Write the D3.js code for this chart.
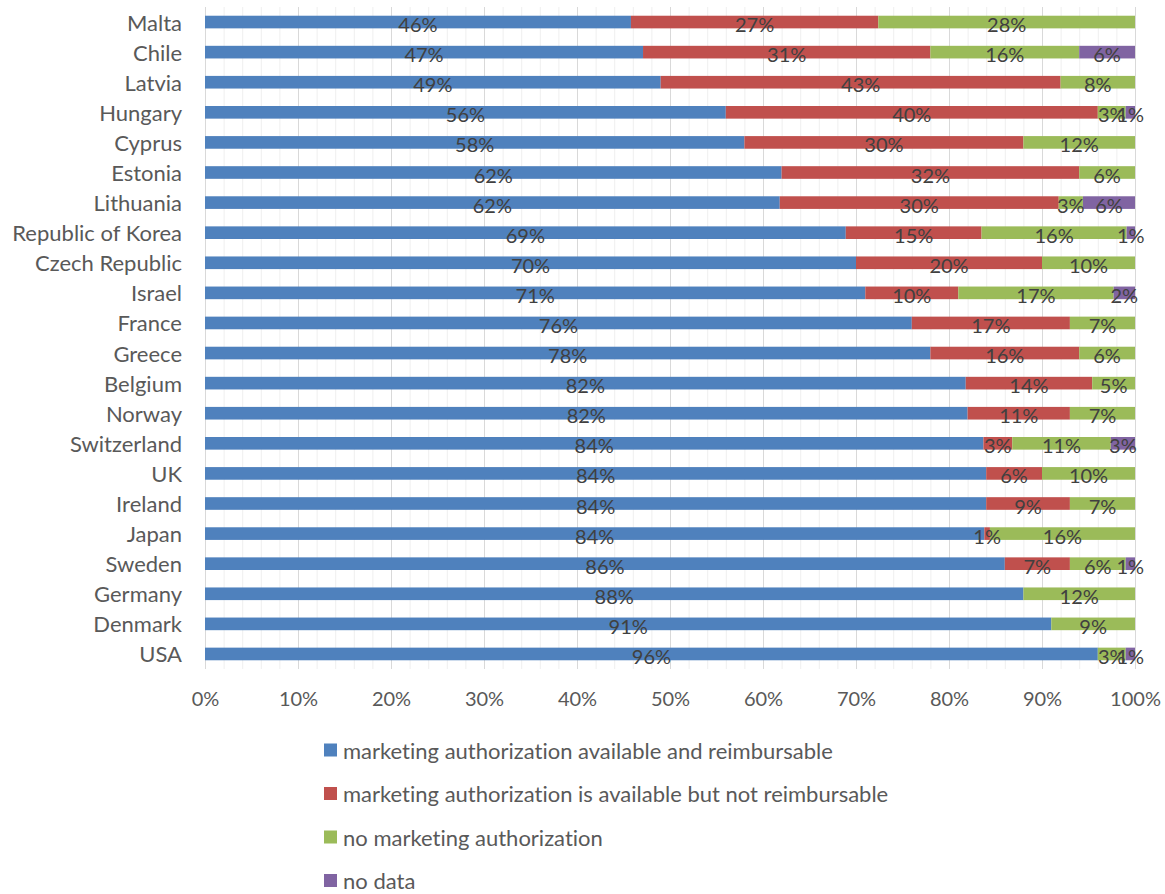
<!DOCTYPE html>
<html>
<head>
<meta charset="utf-8">
<script src="https://cdn.jsdelivr.net/npm/d3@7"></script>
<style>
  html, body { margin: 0; padding: 0; background: #fff; }
  svg { display: block; font-family: Lato, "Open Sans", sans-serif; font-variant-ligatures: none; font-feature-settings: "liga" 0, "clig" 0; }
</style>
</head>
<body>
<svg id="chart" width="1165" height="894"></svg>
<script>
// Share of medicines by access status, per country (percent)
const countries = ["Malta", "Chile", "Latvia", "Hungary", "Cyprus", "Estonia", "Lithuania",
  "Republic of Korea", "Czech Republic", "Israel", "France", "Greece", "Belgium", "Norway",
  "Switzerland", "UK", "Ireland", "Japan", "Sweden", "Germany", "Denmark", "USA"];

const reimbursable    = [45.8, 47.1, 49, 56, 58, 62, 61.8, 68.9, 70, 71, 76, 78, 81.8, 82, 83.7, 84, 84, 83.8, 86, 88, 91, 96];
const notReimbursable = [26.6, 30.9, 43, 40, 30, 32, 30.0, 14.6, 20, 10, 17, 16, 13.6, 11, 3.1, 6, 9, 0.6, 7, 0, 0, 0];
const noAuthorization = [27.6, 16.0, 8, 3, 12, 6, 2.6, 15.6, 10, 16.7, 7, 6, 4.6, 7, 10.6, 10, 7, 15.6, 6, 12, 9, 3];
const noData          = [0, 6.0, 0, 1, 0, 0, 5.6, 0.9, 0, 2.3, 0, 0, 0, 0, 2.6, 0, 0, 0, 1, 0, 0, 1];

const seriesNames = [
  "marketing authorization available and reimbursable",
  "marketing authorization is available but not reimbursable",
  "no marketing authorization",
  "no data"
];
const seriesColors = ["#4F81BD", "#C0504D", "#9BBB59", "#8064A2"];
const xTicks = [0, 10, 20, 30, 40, 50, 60, 70, 80, 90, 100];

// Build rows for the stack layout
const keys = ["a", "b", "c", "d"];
const seriesArrays = [reimbursable, notReimbursable, noAuthorization, noData];
const rows = countries.map((c, i) => {
  const r = { country: c };
  keys.forEach((k, j) => { r[k] = seriesArrays[j][i]; });
  return r;
});

const svg = d3.select("#chart");
const x = d3.scaleLinear().domain([0, 100]).range([205, 1135]);
const y = d3.scaleBand().domain(countries).range([7, 669]).paddingInner(0.58).paddingOuter(0.29);

// Gridlines: minor every 2%, major every 10%
const minor = d3.range(0, 101, 2).filter(v => v % 10 !== 0);
svg.append("g").selectAll("line").data(minor).join("line")
  .attr("x1", d => x(d) + 0.5).attr("x2", d => x(d) + 0.5)
  .attr("y1", 7).attr("y2", 669)
  .attr("stroke", "#efefef").attr("stroke-width", 1);
svg.append("g").selectAll("line").data(xTicks).join("line")
  .attr("x1", d => x(d) + 0.5).attr("x2", d => x(d) + 0.5)
  .attr("y1", 7).attr("y2", 669)
  .attr("stroke", "#d9d9d9").attr("stroke-width", 1);

// Stacked bars
const stacked = d3.stack().keys(keys)(rows);
const layers = svg.append("g").selectAll("g").data(stacked).join("g")
  .attr("fill", (d, i) => seriesColors[i]);
layers.selectAll("rect").data(d => d).join("rect")
  .attr("x", d => x(d[0]))
  .attr("y", d => y(d.data.country))
  .attr("width", d => x(d[1]) - x(d[0]))
  .attr("height", y.bandwidth());

// Data labels centred in each segment
const fmt = v => d3.format(".0f")(v) + "%";
const labels = svg.append("g")
  .attr("font-size", 20).attr("fill", "#404040").attr("text-anchor", "middle");
stacked.forEach(layer => {
  labels.selectAll(null).data(layer.filter(d => d[1] - d[0] > 0)).join("text")
    .attr("x", d => (x(d[0]) + x(d[1])) / 2)
    .attr("y", d => y(d.data.country) + y.bandwidth() / 2 + 2)
    .attr("dominant-baseline", "central")
    .text(d => fmt(d[1] - d[0]));
});

// Category labels
svg.append("g").selectAll("text").data(countries).join("text")
  .attr("x", 182)
  .attr("y", d => y(d) + y.bandwidth() / 2)
  .attr("text-anchor", "end").attr("dominant-baseline", "central")
  .attr("font-size", 22).attr("fill", "#595959")
  .text(d => d);

// Value axis labels
const xAxis = svg.append("g").attr("transform", "translate(0,698)")
  .call(d3.axisBottom(x).tickValues(xTicks).tickSize(0).tickFormat(d => d + "%"));
xAxis.select(".domain").remove();
xAxis.selectAll("text")
  .attr("y", 0).attr("dy", null).attr("dominant-baseline", "central")
  .attr("font-family", "Lato, sans-serif").attr("font-size", 20).attr("fill", "#595959");

// Legend
const legend = svg.append("g").selectAll("g").data(seriesNames).join("g")
  .attr("transform", (d, i) => `translate(324,${750 + i * 43.5})`);
legend.append("rect")
  .attr("x", 0).attr("y", -6.5).attr("width", 13).attr("height", 13)
  .attr("fill", (d, i) => seriesColors[i]);
legend.append("text")
  .attr("x", 19).attr("y", 0).attr("dominant-baseline", "central")
  .attr("font-size", 22).attr("fill", "#595959")
  .text(d => d);
</script>
</body>
</html>
